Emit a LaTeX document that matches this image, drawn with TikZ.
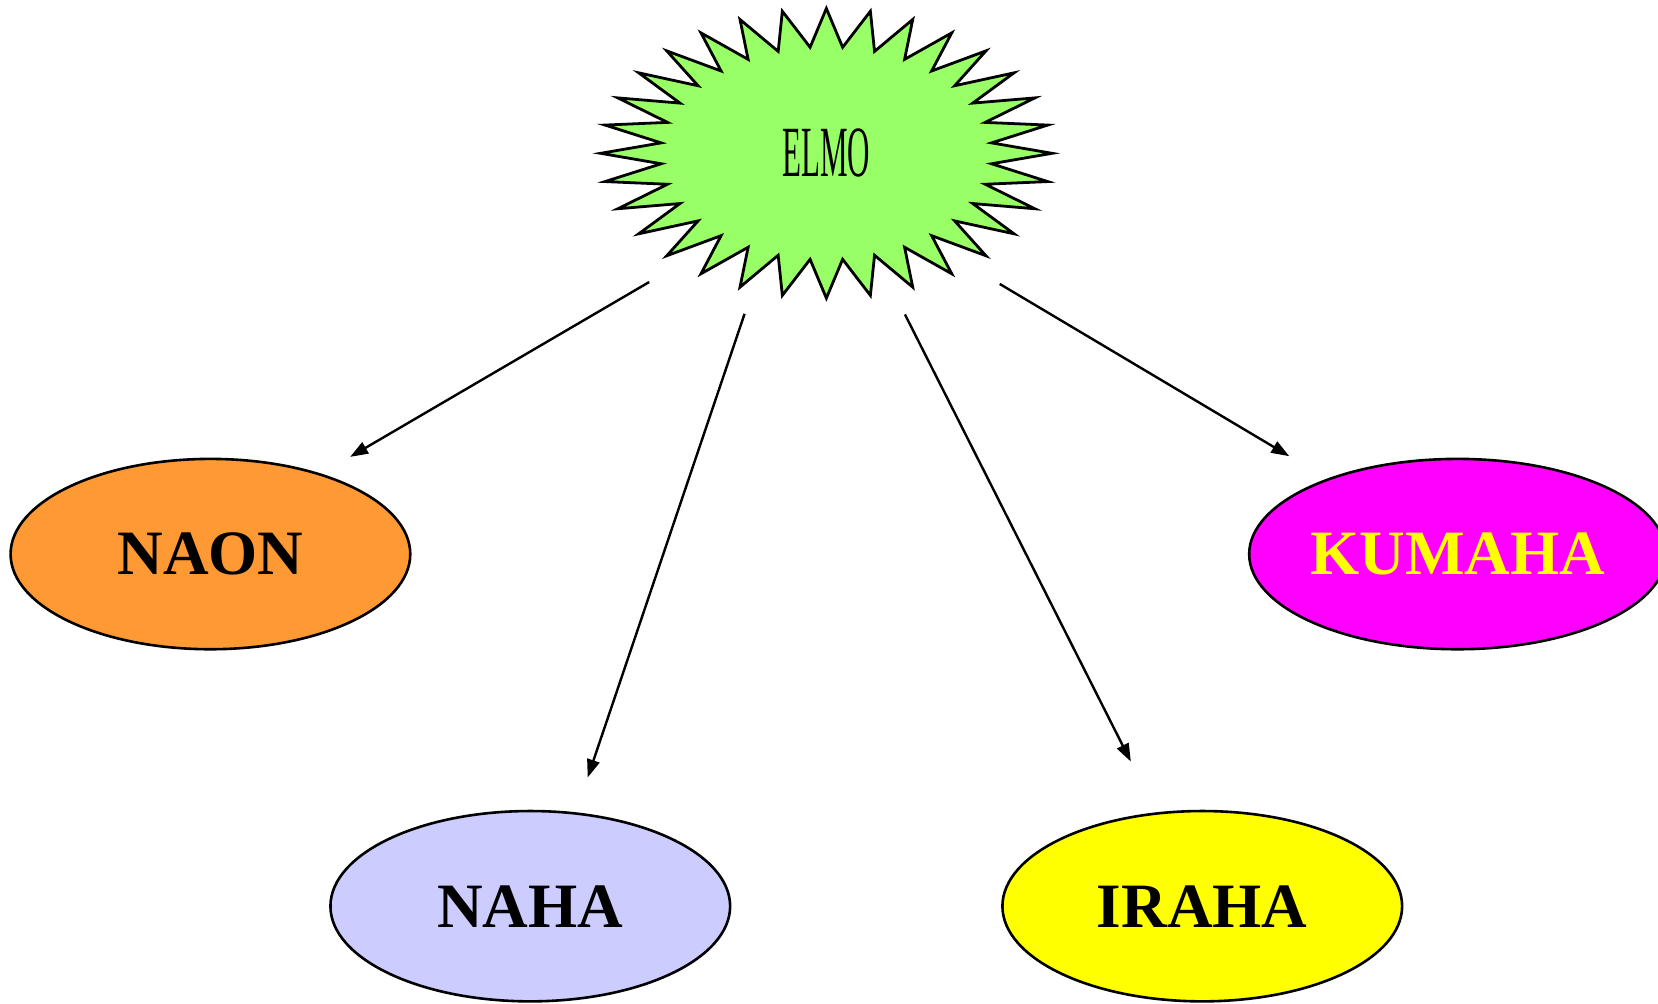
\documentclass[tikz,border=0pt]{standalone}
\usepackage{fontspec}
\setmainfont{Liberation Serif}
\usetikzlibrary{shapes.geometric, arrows.meta, positioning}
\definecolor{elmogreen}{HTML}{99FF66}
\definecolor{naonorange}{HTML}{FF9933}
\definecolor{nahablue}{HTML}{CCCCFF}
\definecolor{irahayellow}{HTML}{FFFF00}
\definecolor{kumahapink}{HTML}{FF00FF}
\tikzstyle{leaf} = [ellipse, draw, line width = 0.7pt, minimum width = 3.78cm, minimum height = 1.80cm, inner sep = 0pt, outer sep = 0pt, font = \fontsize{17}{20}\selectfont\bfseries]
\tikzstyle{burst} = [star, star points = 32, star point ratio = 1.36, draw, line width = 0.75pt, fill = elmogreen, minimum size = 2.74cm, inner sep = 0pt, xscale = 1.558, transform shape]
\tikzstyle{hub} = [ellipse, minimum width = 5.21cm, minimum height = 3.18cm, inner sep = 0pt, outer sep = 0pt, font = \fontsize{19.4}{22}\selectfont]
\tikzstyle{link} = [draw, line width = 0.65pt, -{Triangle[length = 0.17cm, width = 0.12cm]}]
\begin{document}
\begin{tikzpicture}
			\useasboundingbox (0, 0) rectangle (15.68, 9.49);
			% Place nodes
			\node [burst] (elmostar) at (7.815, 8.04) {};
			\node [hub] (elmo) at (7.815, 8.04) {\scalebox{0.43}[1]{ELMO}};
			\node [leaf, fill = naonorange] (naon) at (1.99, 4.25) {NAON};
			\node [leaf, fill = nahablue] (naha) at (5.015, 0.92) {NAHA};
			\node [leaf, fill = irahayellow] (iraha) at (11.37, 0.92) {IRAHA};
			\node [leaf, fill = kumahapink, text = irahayellow] (kumaha) at (13.785, 4.25) {KUMAHA};
			% Draw edges
			\path [link, shorten > = 0.33cm] (elmo.216.2) -- (naon.36.4);
			\path [link, shorten > = 0.36cm] (elmo.243.4) -- (naha.64);
			\path [link, shorten > = 0.55cm] (elmo.296.6) -- (iraha.116.3);
			\path [link, shorten > = 0.43cm] (elmo.323.7) -- (kumaha.150.6);
		\end{tikzpicture}
\end{document}
